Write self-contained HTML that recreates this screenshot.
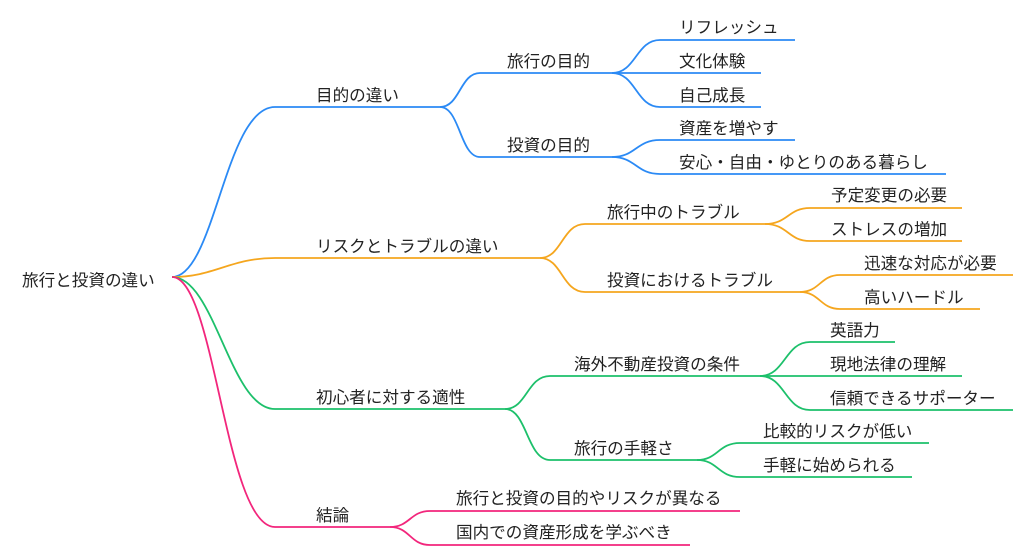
<!DOCTYPE html>
<html><head><meta charset="utf-8"><style>
html,body{margin:0;padding:0;background:#fff;width:1024px;height:555px;overflow:hidden}
svg text{font-family:"Liberation Sans","Noto Sans CJK JP",sans-serif;font-size:16.6px;fill:#222}
path{fill:none;stroke-width:1.8}
.b{stroke:#2b8af5}.o{stroke:#f5a61e}.g{stroke:#1dc06b}.p{stroke:#f2267c}
</style></head><body>
<svg width="1024" height="555" viewBox="0 0 1024 555" xmlns="http://www.w3.org/2000/svg">
<text x="22" y="286">旅行と投資の違い</text>
<!-- L1 -->
<path class="b" d="M172,277 C215,277 225,107 275,107 L440,107"/>
<path class="o" d="M172,277 C215,277 230,258 275,258 L540,258"/>
<path class="g" d="M172,277 C215,277 230,409 275,409 L505,409"/>
<path class="p" d="M172,277 C215,277 225,527 275,527 L390,527"/>
<text x="316" y="101">目的の違い</text>
<text x="316" y="252">リスクとトラブルの違い</text>
<text x="316" y="403">初心者に対する適性</text>
<text x="316" y="521">結論</text>
<!-- L2 blue -->
<path class="b" d="M440,107 C460,107 460,73 480,73 L612,73"/>
<path class="b" d="M440,107 C460,107 460,157 480,157 L612,157"/>
<text x="507" y="67">旅行の目的</text>
<text x="507" y="151">投資の目的</text>
<path class="b" d="M612,73 C636,73 636,40 660,40 L795,40"/>
<path class="b" d="M612,73 L761,73"/>
<path class="b" d="M612,73 C636,73 636,107 660,107 L761,107"/>
<path class="b" d="M612,157 C636,157 636,140 660,140 L795,140"/>
<path class="b" d="M612,157 C636,157 636,174 660,174 L946,174"/>
<text x="679" y="33">リフレッシュ</text>
<text x="679" y="67">文化体験</text>
<text x="679" y="101">自己成長</text>
<text x="679" y="134">資産を増やす</text>
<text x="679" y="168">安心・自由・ゆとりのある暮らし</text>
<!-- L2 orange -->
<path class="o" d="M540,258 C562,258 562,224 585,224 L765,224"/>
<path class="o" d="M540,258 C562,258 562,292 585,292 L800,292"/>
<text x="607" y="218">旅行中のトラブル</text>
<text x="607" y="286">投資におけるトラブル</text>
<path class="o" d="M765,224 C788,224 788,208 810,208 L962,208"/>
<path class="o" d="M765,224 C788,224 788,241 810,241 L962,241"/>
<path class="o" d="M800,292 C820,292 820,275 840,275 L1013,275"/>
<path class="o" d="M800,292 C820,292 820,309 840,309 L980,309"/>
<text x="831" y="201">予定変更の必要</text>
<text x="831" y="235">ストレスの増加</text>
<text x="864" y="269">迅速な対応が必要</text>
<text x="864" y="303">高いハードル</text>
<!-- L2 green -->
<path class="g" d="M505,409 C527,409 527,376 550,376 L760,376"/>
<path class="g" d="M505,409 C527,409 527,460 550,460 L697,460"/>
<text x="574" y="370">海外不動産投資の条件</text>
<text x="574" y="454">旅行の手軽さ</text>
<path class="g" d="M760,376 C785,376 785,342 810,342 L895,342"/>
<path class="g" d="M760,376 L962,376"/>
<path class="g" d="M760,376 C785,376 785,410 810,410 L1013,410"/>
<path class="g" d="M697,460 C718,460 718,443 740,443 L929,443"/>
<path class="g" d="M697,460 C718,460 718,477 740,477 L912,477"/>
<text x="830" y="336">英語力</text>
<text x="830" y="370">現地法律の理解</text>
<text x="830" y="404">信頼できるサポーター</text>
<text x="763" y="437">比較的リスクが低い</text>
<text x="763" y="471">手軽に始められる</text>
<!-- L2 pink -->
<path class="p" d="M390,527 C410,527 410,511 430,511 L740,511"/>
<path class="p" d="M390,527 C410,527 410,545 430,545 L690,545"/>
<text x="456" y="504">旅行と投資の目的やリスクが異なる</text>
<text x="456" y="538">国内での資産形成を学ぶべき</text>
</svg>
</body></html>
